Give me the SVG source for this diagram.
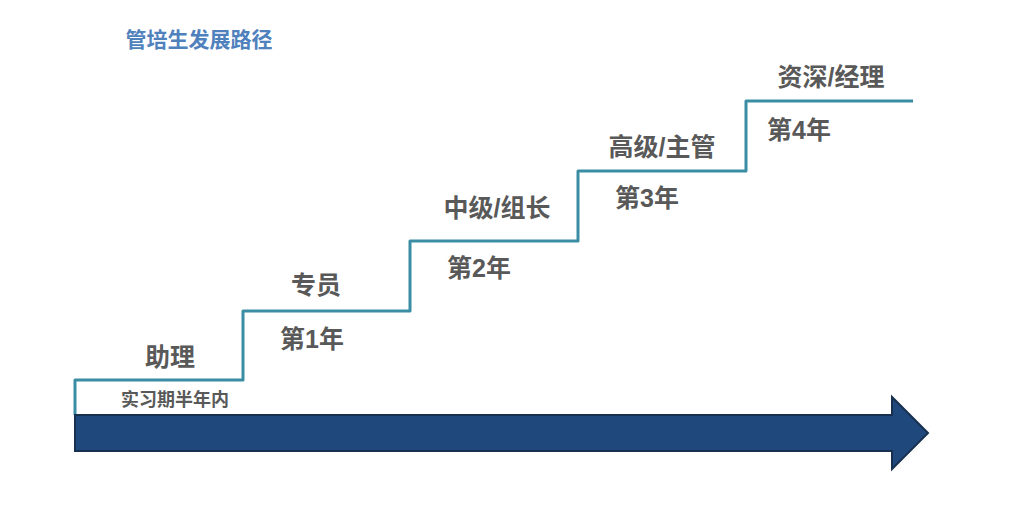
<svg xmlns="http://www.w3.org/2000/svg" width="1024" height="509" viewBox="0 0 1024 509">
<style>
.t{font-family:"Liberation Sans","Noto Sans CJK SC",sans-serif;font-weight:bold;fill:#595959;text-anchor:middle}
.big{font-size:25px}
.small{font-size:18px}
.title{font-family:"Liberation Sans","Noto Sans CJK SC",sans-serif;font-weight:bold;font-size:21px;fill:#4f81bd;text-anchor:middle}
.stair{fill:none;stroke:#3b8da3;stroke-width:3;stroke-linejoin:round}
</style>
<rect width="1024" height="509" fill="#ffffff"/>
<text class="title" x="199" y="47">管培生发展路径</text>
<g id="connectors">
<path class="stair" d="M75,415 V380 H243 V311 H410 V241 H578 V171 H746 V101 H913"/>
</g>
<g id="arrow">
<path d="M75,415 H892 V397 L928,433 L892,469 V451 H75 Z" fill="#1f497d" stroke="#17304f" stroke-width="2" stroke-linejoin="miter"/>
</g>
<g id="step0">
<text class="t big" x="170" y="366">助理</text>
<text class="t small" x="175" y="406">实习期半年内</text>
</g>
<g id="step1">
<text class="t big" x="316" y="294">专员</text>
<text class="t big" x="312" y="348">第1年</text>
</g>
<g id="step2">
<text class="t big" x="497" y="217">中级/组长</text>
<text class="t big" x="479" y="277">第2年</text>
</g>
<g id="step3">
<text class="t big" x="662" y="156">高级/主管</text>
<text class="t big" x="647" y="207">第3年</text>
</g>
<g id="step4">
<text class="t big" x="831" y="86">资深/经理</text>
<text class="t big" x="799" y="139">第4年</text>
</g>
</svg>
